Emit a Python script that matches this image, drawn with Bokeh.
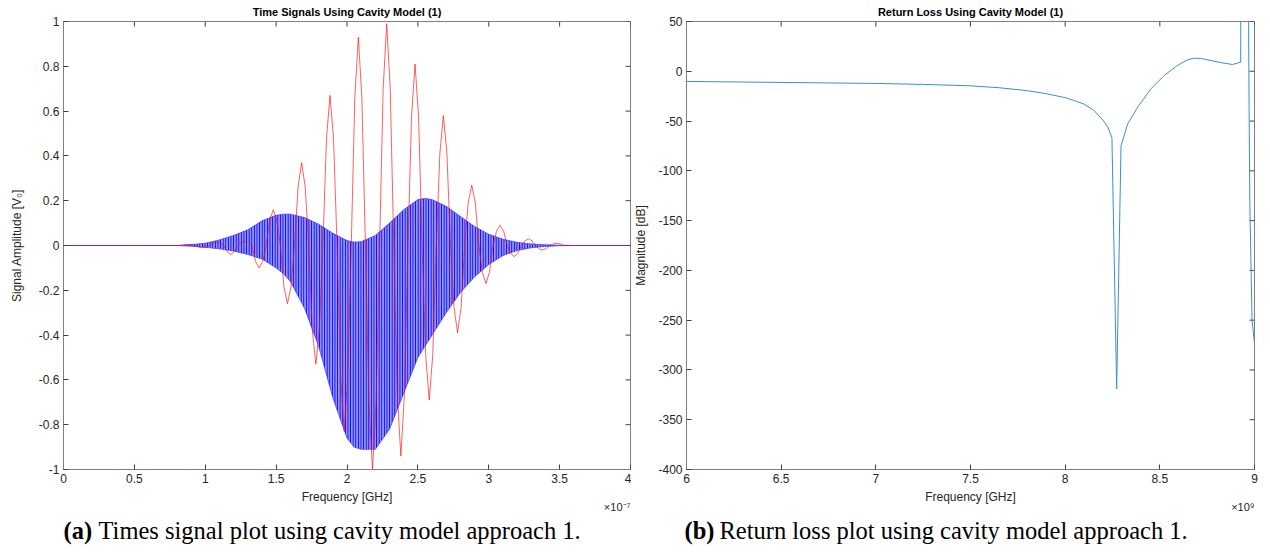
import math
from bokeh.plotting import figure
from bokeh.layouts import row, column
from bokeh.models import Range1d, FixedTicker, Title
from bokeh.core.properties import value
from bokeh.embed import file_html
from bokeh.resources import INLINE

# ---------------- Panel (a): time signals (time in units of 1e-7 s) ----------------
red_t = [0.0, 0.5, 0.83,
         0.855, 0.88, 0.905, 0.93,
         0.955, 0.98, 1.005, 1.03,
         1.055, 1.08, 1.105, 1.13,
         1.155, 1.18, 1.205, 1.23,
         1.255, 1.28, 1.305, 1.33,
         1.355, 1.38, 1.405, 1.43,
         1.455, 1.48, 1.505, 1.53,
         1.555, 1.58, 1.605, 1.63,
         1.655, 1.68, 1.705, 1.73,
         1.755, 1.78, 1.805, 1.83,
         1.855, 1.88, 1.905, 1.93,
         1.955, 1.98, 2.005, 2.03,
         2.055, 2.08, 2.105, 2.13,
         2.155, 2.18, 2.205, 2.23,
         2.255, 2.28, 2.305, 2.33,
         2.355, 2.38, 2.405, 2.43,
         2.455, 2.48, 2.505, 2.53,
         2.555, 2.58, 2.605, 2.63,
         2.655, 2.68, 2.705, 2.73,
         2.755, 2.78, 2.805, 2.83,
         2.855, 2.88, 2.905, 2.93,
         2.955, 2.98, 3.005, 3.03,
         3.055, 3.08, 3.105, 3.13,
         3.155, 3.18, 3.205, 3.23,
         3.255, 3.28, 3.305, 3.33,
         3.355, 3.38, 3.405, 3.43,
         3.455, 3.48, 3.505, 3.53,
         3.6, 4.0]
red_v = [0.0, 0.0, 0.0,
         0.003, 0.004, 0.003, 0.0,
         -0.007, -0.01, -0.007, 0.0,
         0.011, 0.015, 0.011, 0.0,
         -0.028, -0.04, -0.028, 0.0,
         0.014, 0.02, 0.014, 0.0,
         -0.071, -0.10, -0.071, 0.0,
         0.113, 0.16, 0.113, 0.0,
         -0.184, -0.26, -0.184, 0.0,
         0.262, 0.37, 0.262, 0.0,
         -0.375, -0.53, -0.375, 0.0,
         0.474, 0.67, 0.474, 0.0,
         -0.587, -0.83, -0.587, 0.0,
         0.658, 0.93, 0.658, 0.0,
         -0.707, -1.0, -0.707, 0.0,
         0.70, 0.99, 0.70, 0.0,
         -0.665, -0.94, -0.665, 0.0,
         0.573, 0.81, 0.573, 0.0,
         -0.488, -0.69, -0.488, 0.0,
         0.41, 0.58, 0.41, 0.0,
         -0.276, -0.39, -0.276, 0.0,
         0.191, 0.27, 0.191, 0.0,
         -0.12, -0.17, -0.12, 0.0,
         0.064, 0.09, 0.064, 0.0,
         -0.035, -0.05, -0.035, 0.0,
         0.021, 0.03, 0.021, 0.0,
         -0.014, -0.02, -0.014, 0.0,
         0.007, 0.01, 0.007, 0.0,
         0.0, 0.0]

# envelope of the dense blue oscillation
env_t = [0.0, 0.8, 0.9, 1.0, 1.1, 1.2, 1.3, 1.4, 1.5, 1.55, 1.6, 1.7, 1.8, 1.9, 2.0,
         2.05, 2.1, 2.2, 2.3, 2.4, 2.5, 2.55, 2.6, 2.7, 2.8, 2.9, 3.0, 3.1, 3.2, 3.3,
         3.4, 3.5, 3.6, 4.0]
env_upper = [0.0, 0.0, 0.004, 0.01, 0.025, 0.045, 0.07, 0.11, 0.135, 0.14, 0.14, 0.125,
             0.095, 0.055, 0.022, 0.015, 0.017, 0.045, 0.10, 0.16, 0.205, 0.21, 0.205,
             0.175, 0.13, 0.085, 0.05, 0.028, 0.014, 0.007, 0.003, 0.001, 0.0, 0.0]
env_lower = [0.0, 0.0, -0.003, -0.008, -0.015, -0.025, -0.04, -0.06, -0.1, -0.125, -0.16,
             -0.28, -0.45, -0.68, -0.86, -0.9, -0.91, -0.91, -0.82, -0.66, -0.5, -0.45,
             -0.40, -0.30, -0.21, -0.14, -0.085, -0.045, -0.022, -0.01, -0.004, -0.001,
             0.0, 0.0]

a_xticks = [0, 0.5, 1, 1.5, 2, 2.5, 3, 3.5, 4]
a_xlabels = ["0", "0.5", "1", "1.5", "2", "2.5", "3", "3.5", "4"]
a_yticks = [-1, -0.8, -0.6, -0.4, -0.2, 0, 0.2, 0.4, 0.6, 0.8, 1]
a_ylabels = ["-1", "-0.8", "-0.6", "-0.4", "-0.2", "0", "0.2", "0.4", "0.6", "0.8", "1"]

# ---------------- Panel (b): return loss (frequency in units of 1e9 Hz) ----------------
freq = [6.0, 6.25, 6.5, 6.75, 7.0, 7.25, 7.5, 7.65, 7.8, 7.9, 8.0, 8.05, 8.1, 8.15, 8.2,
        8.225, 8.247, 8.272, 8.295, 8.33, 8.383, 8.453, 8.523, 8.593, 8.646, 8.679, 8.72,
        8.751, 8.82, 8.883, 8.927, 8.930, 8.966, 8.970, 8.975, 8.987, 9.0]
rl_db = [-10.2, -10.7, -11.2, -11.7, -12.2, -13.2, -14.6, -16.5, -19.5, -22.5, -26.5, -29.5,
         -33.0, -39.0, -49.0, -56.0, -66.5, -319.0, -75.0, -53.0, -36.0, -17.6, -4.2, 5.8,
         11.5, 13.1, 12.8, 11.5, 8.8, 6.8, 9.1, 200.0, 200.0, 4.0, -130.0, -250.0, -273.0]

b_xticks = [6, 6.5, 7, 7.5, 8, 8.5, 9]
b_xlabels = ["6", "6.5", "7", "7.5", "8", "8.5", "9"]
b_yticks = [-400, -350, -300, -250, -200, -150, -100, -50, 0, 50]
b_ylabels = ["-400", "-350", "-300", "-250", "-200", "-150", "-100", "-50", "0", "50"]

captions_bold = ["(a)", "(b)"]
captions_text = ["Times signal plot using cavity model approach 1.",
                 "Return loss plot using cavity model approach 1."]

FONT = "Liberation Sans"
SERIF = "Liberation Serif"
TXT = "#262626"
AXC = "#7f7f7f"
TICKC = "#404040"
FIG_H = 513


def style_axis(ax, ticks, labels):
    ax.ticker = FixedTicker(ticks=ticks)
    ax.major_label_overrides = {t: l for t, l in zip(ticks, labels)}
    ax.major_tick_in = 5
    ax.major_tick_out = 0
    ax.minor_tick_in = 0
    ax.minor_tick_out = 0
    ax.axis_line_color = AXC
    ax.major_tick_line_color = TICKC
    ax.major_label_text_font = FONT
    ax.major_label_text_color = TXT
    ax.major_label_text_font_size = "12px"
    ax.major_label_standoff = 4
    ax.axis_label_text_font = FONT
    ax.axis_label_text_font_style = "normal"
    ax.axis_label_text_color = TXT
    ax.axis_label_text_font_size = "12px"


def make_fig(width, bl, br, xr, yr, title, xt, xl, yt, yl, xlabel, ylabel,
             ylab_standoff, exponent):
    p = figure(width=width, height=FIG_H, x_range=Range1d(*xr), y_range=Range1d(*yr),
               output_backend="svg", toolbar_location=None,
               min_border_left=bl, min_border_right=br, min_border_top=21,
               min_border_bottom=FIG_H - 469)
    p.grid.visible = False
    p.outline_line_color = AXC
    p.title.text = title
    p.title.text_font = FONT
    p.title.text_font_style = "bold"
    p.title.text_font_size = "11px"
    p.title.text_color = "#000000"
    p.title.align = "center"
    p.title.standoff = 7
    style_axis(p.xaxis[0], xt, xl)
    style_axis(p.yaxis[0], yt, yl)
    p.xaxis[0].axis_label = xlabel
    p.yaxis[0].axis_label = ylabel
    p.yaxis[0].axis_label_standoff = ylab_standoff
    p.xaxis[0].axis_label_standoff = 4
    # mirrored inward ticks on the top and right edges (box on)
    p.ray(x=xt, y=[yr[1]] * len(xt), length=5, length_units="screen",
          angle=-math.pi / 2, line_color=TICKC, line_width=1)
    p.ray(x=[xr[1]] * len(yt), y=yt, length=5, length_units="screen",
          angle=math.pi, line_color=TICKC, line_width=1)
    p.add_layout(Title(text=exponent, align="right", vertical_align="top",
                       text_font=FONT, text_font_size="11px", text_font_style="normal",
                       text_color=TXT, standoff=-12), "below")
    return p


pa = make_fig(631, 63, 1, (0, 4), (-1, 1), "Time Signals Using Cavity Model (1)",
              a_xticks, a_xlabels, a_yticks, a_ylabels,
              "Frequency [GHz]", "Signal Amplitude [V\u2080]", 12, "\u00d710\u207b\u2077")

pa.varea(x=env_t, y1=env_lower, y2=env_upper, fill_color="#8a8aff", fill_alpha=0.9,
         hatch_pattern="vertical_line", hatch_color="#0000ff", hatch_scale=2.6,
         hatch_weight=1.2, hatch_alpha=0.95)
pa.line(env_t, env_upper, line_color="#3a3aff", line_width=0.7)
pa.line(env_t, env_lower, line_color="#3a3aff", line_width=0.7)
pa.line(red_t, red_v, line_color="#ff0000", line_width=0.9, line_alpha=0.7)

pb = make_fig(639, 53, 16, (6, 9), (-400, 50), "Return Loss Using Cavity Model (1)",
              b_xticks, b_xlabels, b_yticks, b_ylabels,
              "Frequency [GHz]", "Magnitude [dB]", 7, "\u00d710\u2079")
pb.line(freq, rl_db, line_color="#3b8fd2", line_width=1.0)

# caption strip below both panels
CAP_H = 552 - FIG_H
cap = figure(width=1270, height=CAP_H, x_range=Range1d(0, 1270), y_range=Range1d(0, CAP_H),
             output_backend="svg", toolbar_location=None, min_border=0)
cap.axis.visible = False
cap.grid.visible = False
cap.outline_line_color = None
cap_y = CAP_H - (530 - FIG_H)
cap.text(x=[63, 684], y=[cap_y, cap_y], text=captions_bold, text_font=value(SERIF),
         text_font_style="bold", text_font_size="24.5px", text_color="#000000",
         text_baseline="middle")
cap.text(x=[98, 719], y=[cap_y, cap_y], text=captions_text, text_font=value(SERIF),
         text_font_size="24.5px", text_color="#000000", text_baseline="middle")

layout = column(row(pa, pb), cap)
open("out.html", "w").write(file_html(layout, INLINE))
